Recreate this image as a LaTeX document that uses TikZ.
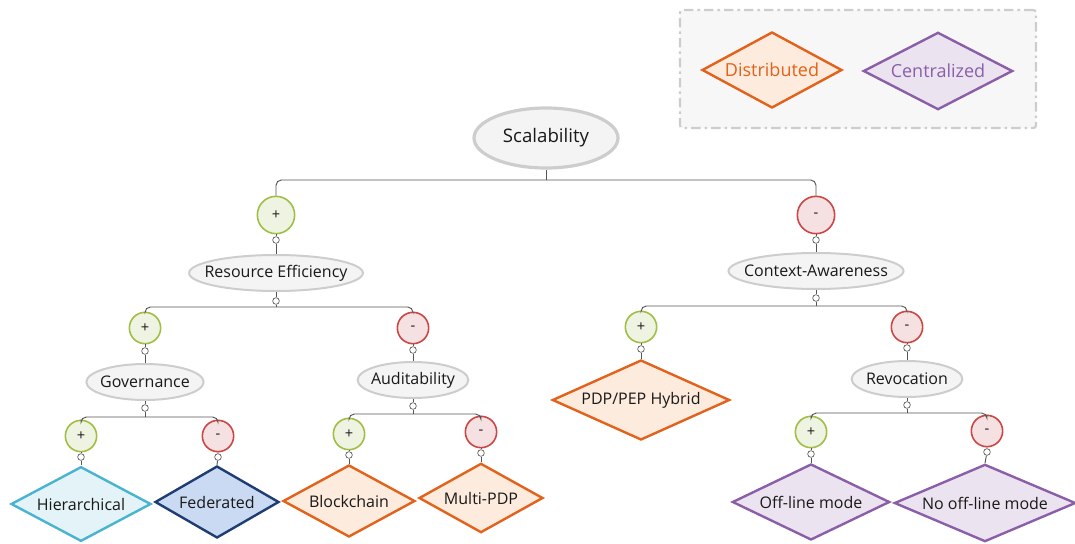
\documentclass[tikz,border=0pt]{standalone}
\usepackage{fontspec}
\setmainfont{Open Sans}
\usetikzlibrary{shapes.geometric}
\definecolor{linie}{RGB}{85,85,85}
\definecolor{randgrau}{RGB}{205,205,205}
\definecolor{fuellgrau}{RGB}{244,244,244}
\definecolor{plusrand}{RGB}{160,190,70}
\definecolor{plusfill}{RGB}{239,243,226}
\definecolor{minusrand}{RGB}{205,70,70}
\definecolor{minusfill}{RGB}{245,225,225}
\definecolor{orangerand}{RGB}{226,98,27}
\definecolor{orangefill}{RGB}{253,235,221}
\definecolor{lilarand}{RGB}{138,95,168}
\definecolor{lilafill}{RGB}{236,227,240}
\definecolor{hellblau}{RGB}{74,179,208}
\definecolor{hellblaufill}{RGB}{227,243,248}
\definecolor{dunkelblau}{RGB}{31,61,115}
\definecolor{dunkelblaufill}{RGB}{201,218,242}
\definecolor{textgrau}{RGB}{25,25,25}

\begin{document}
\begin{tikzpicture}[x=0.75pt, y=-0.75pt, font=\fontsize{12}{14}\selectfont, text=textgrau,
	wire/.style={linie, line width=0.7pt, rounded corners=4pt},
	ziel/.style={draw=randgrau, fill=fuellgrau, ellipse, line width=1.5pt, inner xsep=-7.5pt, inner ysep=0pt, minimum height=27pt},
	plus/.style={draw=plusrand, fill=plusfill, circle, line width=1.2pt, minimum size=23.5pt, inner sep=0pt, font=\fontsize{11}{12}\selectfont},
	minus/.style={draw=minusrand, fill=minusfill, circle, line width=1.2pt, minimum size=23.5pt, inner sep=0pt, font=\fontsize{11}{12}\selectfont},
	knopf/.style={draw=linie, fill=white, circle, line width=0.5pt, minimum size=5pt, inner sep=0pt},
	raute/.style={diamond, aspect=2, inner sep=0pt, line width=1.8pt}]

	\useasboundingbox (0,0) rectangle (1075,543);

	% Legende
	\node[draw=randgrau, fill=fuellgrau!70!white, line width=1.6pt, dash pattern=on 7pt off 3pt on 2pt off 3pt, rounded corners=2pt, minimum width=267pt, minimum height=88.5pt] (leg) at (858,69) {};
	\node[raute, draw=orangerand, fill=orangefill, text=orangerand, minimum width=105pt, minimum height=57pt, font=\fontsize{13.5}{15}\selectfont] (dist) at (772,70) {Distributed};
	\node[raute, draw=lilarand, fill=lilafill, text=lilarand, minimum width=112pt, minimum height=58pt, font=\fontsize{13.5}{15}\selectfont] (zent) at (938,71) {Centralized};

	% Stufe 1
	\node[ziel, line width=2.4pt, minimum width=108pt, minimum height=45pt, font=\fontsize{14}{16}\selectfont] (S) at (546,138) {Scalability};
	\coordinate (b1) at (546,180);
	\node[plus, minimum size=28pt] (P1) at (276,215) {+};
	\node[minus, minimum size=28pt] (M1) at (816,215) {-};
	\draw[wire] (S.south) -- (b1);
	\draw[wire] (b1) -| (P1.north);
	\draw[wire] (b1) -| (M1.north);

	\node[knopf] (kP1) at (276,240) {};
	\node[knopf] (kM1) at (816,240) {};
	\node[ziel, minimum width=129pt] (RE) at (276,273) {Resource Efficiency};
	\node[ziel, minimum width=129pt] (CA) at (816,271) {Context-Awareness};
	\draw[wire] (P1.south) -- (kP1) -- (RE.north);
	\draw[wire] (M1.south) -- (kM1) -- (CA.north);

	% Stufe 2 links
	\node[knopf] (kRE) at (276,301) {};
	\coordinate (b2) at (276,307);
	\node[plus] (P2) at (145,328) {+};
	\node[minus] (M2) at (413,328) {-};
	\draw[wire] (RE.south) -- (kRE) -- (b2);
	\draw[wire] (b2) -| (P2.north);
	\draw[wire] (b2) -| (M2.north);

	\node[knopf] (kP2) at (145,351) {};
	\node[knopf] (kM2) at (413,350) {};
	\node[ziel, minimum width=88pt] (GOV) at (145,382) {Governance};
	\node[ziel, minimum width=83pt] (AUD) at (413,380) {Auditability};
	\draw[wire] (P2.south) -- (kP2) -- (GOV.north);
	\draw[wire] (M2.south) -- (kM2) -- (AUD.north);

	% Stufe 2 rechts
	\node[knopf] (kCA) at (816,298) {};
	\coordinate (b3) at (816,306);
	\node[plus] (P3) at (641,327) {+};
	\node[minus] (M3) at (907,327) {-};
	\draw[wire] (CA.south) -- (kCA) -- (b3);
	\draw[wire] (b3) -| (P3.north);
	\draw[wire] (b3) -| (M3.north);

	\node[knopf] (kP3) at (641,349) {};
	\node[knopf] (kM3) at (907,348) {};
	\node[raute, draw=orangerand, fill=orangefill, minimum width=133pt, minimum height=60pt] (HYB) at (641,400) {PDP/PEP Hybrid};
	\node[ziel, minimum width=83pt] (REV) at (907,379) {Revocation};
	\draw[wire] (P3.south) -- (kP3) -- (HYB.north);
	\draw[wire] (M3.south) -- (kM3) -- (REV.north);

	% Stufe 3 Governance
	\node[knopf] (kGOV) at (145,408) {};
	\coordinate (b4) at (145,417);
	\node[plus] (P4) at (81,436) {+};
	\node[minus] (M4) at (218,436) {-};
	\draw[wire] (GOV.south) -- (kGOV) -- (b4);
	\draw[wire] (b4) -| (P4.north);
	\draw[wire] (b4) -| (M4.north);

	\node[knopf] (kP4) at (81,457) {};
	\node[knopf] (kM4) at (218,457) {};
	\node[raute, draw=hellblau, fill=hellblaufill, minimum width=105pt, minimum height=56pt] (HIE) at (81,504) {Hierarchical};
	\node[raute, draw=dunkelblau, fill=dunkelblaufill, minimum width=93pt, minimum height=54pt] (FED) at (217,502) {Federated};
	\draw[wire] (P4.south) -- (kP4) -- (HIE.north);
	\draw[wire] (M4.south) -- (kM4) -- (FED.north);

	% Stufe 3 Auditability
	\node[knopf] (kAUD) at (413,406) {};
	\coordinate (b5) at (413,414);
	\node[plus] (P5) at (349,434) {+};
	\node[minus] (M5) at (481,432) {-};
	\draw[wire] (AUD.south) -- (kAUD) -- (b5);
	\draw[wire] (b5) -| (P5.north);
	\draw[wire] (b5) -| (M5.north);

	\node[knopf] (kP5) at (349,455) {};
	\node[knopf] (kM5) at (481,453) {};
	\node[raute, draw=orangerand, fill=orangefill, minimum width=99pt, minimum height=54pt] (BLO) at (349,501) {Blockchain};
	\node[raute, draw=orangerand, fill=orangefill, minimum width=93pt, minimum height=52pt] (MUL) at (481,498) {Multi-PDP};
	\draw[wire] (P5.south) -- (kP5) -- (BLO.north);
	\draw[wire] (M5.south) -- (kM5) -- (MUL.north);

	% Stufe 3 Revocation
	\node[knopf] (kREV) at (907,405) {};
	\coordinate (b6) at (907,413);
	\node[plus] (P6) at (811,432) {+};
	\node[minus] (M6) at (987,431) {-};
	\draw[wire] (REV.south) -- (kREV) -- (b6);
	\draw[wire] (b6) -| (P6.north);
	\draw[wire] (b6) -| (M6.north);

	\node[knopf] (kP6) at (811,454) {};
	\node[knopf] (kM6) at (987,452) {};
	\node[raute, draw=lilarand, fill=lilafill, minimum width=118pt, minimum height=57pt] (OFF) at (811,502) {Off-line mode};
	\node[raute, draw=lilarand, fill=lilafill, minimum width=136pt, minimum height=58pt] (NOF) at (985,503) {No off-line mode};
	\draw[wire] (P6.south) -- (kP6) -- (OFF.north);
	\draw[wire] (M6.south) -- (kM6) -- (NOF.north);

\end{tikzpicture}
\end{document}
